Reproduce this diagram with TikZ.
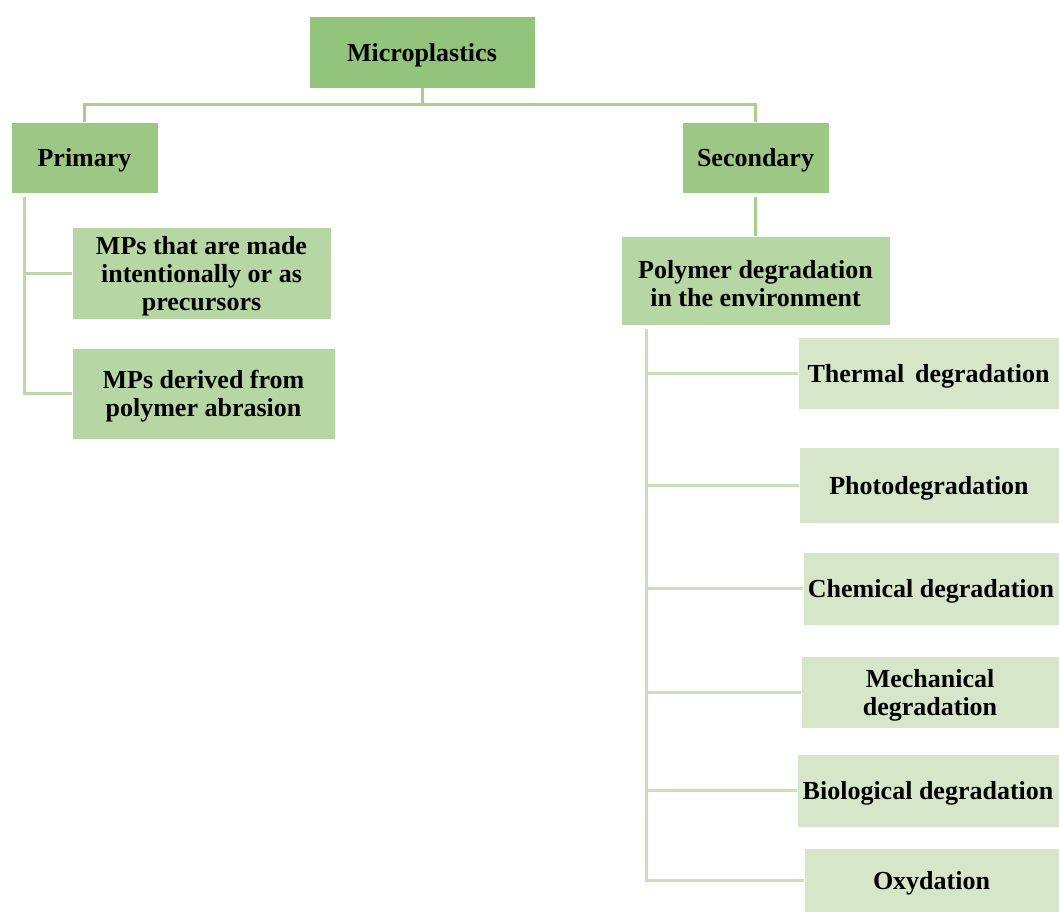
\documentclass[tikz,border=0pt]{standalone}
\usepackage{fontspec}
\setmainfont{Liberation Serif}
\definecolor{cTop}{HTML}{93C47B}
\definecolor{cLvA}{HTML}{9DC784}
\definecolor{cLvB}{HTML}{B6D7A3}
\definecolor{cLvC}{HTML}{D5E6C9}
\definecolor{lnA}{HTML}{A8D08D}
\definecolor{lnB}{HTML}{B9D9A6}
\definecolor{lnC}{HTML}{C9E0BA}
\tikzset{
  lbl/.style={inner sep=0pt, align=center, text=black, yshift=-3pt,
    font=\fontsize{26}{28}\selectfont\bfseries},
  box/.style={rectangle, inner sep=0pt, draw=white, line width=0.8pt,
    label={[lbl]center:{#1}}},
  conn/.style={line width=3pt}
}
\begin{document}
\begin{tikzpicture}[x=1pt,y=-1pt]
\fill[white] (0,0) rectangle (1059,912);
\useasboundingbox (0,0) rectangle (1059,912);
% nodes
\node[box={Microplastics}, fill=cTop, minimum width=226pt, minimum height=72pt] (micro) at (422,52) {};
\node[box={Primary}, fill=cLvA, minimum width=147pt, minimum height=71pt] (prim) at (84.5,157.5) {};
\node[box={Secondary}, fill=cLvA, minimum width=147pt, minimum height=71pt] (sec) at (755.5,157.5) {};
\node[box={MPs that are made\\intentionally or as\\precursors}, fill=cLvB, minimum width=259pt, minimum height=92pt] (mpa) at (201.5,273) {};
\node[box={MPs derived from\\polymer abrasion}, fill=cLvB, minimum width=263pt, minimum height=91pt] (mpb) at (203.5,393.5) {};
\node[box={Polymer degradation\\in the environment}, fill=cLvB, minimum width=269pt, minimum height=89pt] (poly) at (755.5,280.5) {};
\node[box={Thermal\, degradation}, fill=cLvC, minimum width=261pt, minimum height=72pt] (therm) at (928.5,373) {};
\node[box={Photodegradation}, fill=cLvC, minimum width=260pt, minimum height=76pt] (photo) at (929,485) {};
\node[box={Chemical degradation}, fill=cLvC, minimum width=256pt, minimum height=73pt] (chem) at (931,588.5) {};
\node[box={Mechanical\\degradation}, fill=cLvC, minimum width=258pt, minimum height=72pt] (mech) at (930,692) {};
\node[box={Biological degradation}, fill=cLvC, minimum width=262pt, minimum height=73pt] (bio) at (928,790.5) {};
\node[box={Oxydation}, fill=cLvC, minimum width=255pt, minimum height=64pt] (oxy) at (931.5,880) {};
% connector junctions
\coordinate (pv) at ([xshift=26pt,yshift=-4pt]poly.south west);
\coordinate (pr) at ([xshift=14pt,yshift=-4pt]prim.south west);
% connectors
\draw[conn, lnA] (micro.south) -- ++(0,16) coordinate (mj);
\draw[conn, lnA] (mj) -| (prim.north);
\draw[conn, lnA] (mj) -| (sec.north);
\draw[conn, lnB] (pr) |- (mpa.west);
\draw[conn, lnB] (pr) |- (mpb.west);
\draw[conn, lnA] ([yshift=-4pt]sec.south) -- (poly.north);
\draw[conn, lnC] (pv) |- (therm.west);
\draw[conn, lnC] (pv) |- (photo.west);
\draw[conn, lnC] (pv) |- (chem.west);
\draw[conn, lnC] (pv) |- (mech.west);
\draw[conn, lnC] (pv) |- (bio.west);
\draw[conn, lnC] (pv) |- (oxy.west);
\end{tikzpicture}
\end{document}
